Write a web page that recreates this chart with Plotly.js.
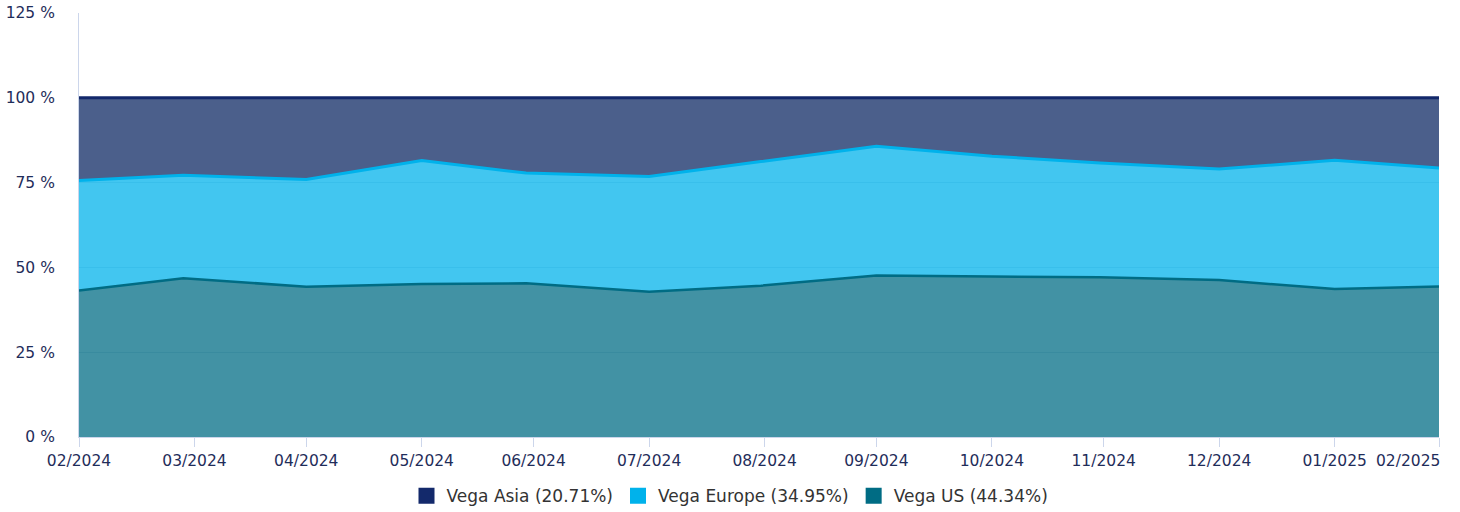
<!DOCTYPE html>
<html>
<head>
<meta charset="utf-8">
<script src="https://cdn.plot.ly/plotly-3.0.1.min.js"></script>
<style>
  html, body { margin: 0; padding: 0; background: #ffffff; }
  #chart { width: 1460px; height: 512px; }
</style>
</head>
<body>
<div id="chart"></div>
<script>
// Observation dates (month-end business days)
var dates = ['2024-02-29','2024-03-28','2024-04-30','2024-05-31','2024-06-28','2024-07-31',
             '2024-08-30','2024-09-30','2024-10-31','2024-11-29','2024-12-31','2025-01-31','2025-02-28'];

// Weights in % (stacked: US bottom, Europe middle, Asia top)
var vegaUS     = [43.2, 46.8, 44.3, 45.1, 45.3, 42.8, 44.6, 47.6, 47.3, 47.1, 46.3, 43.6, 44.34];
var vegaEurope = [32.4, 30.4, 31.6, 36.4, 32.5, 34.0, 36.6, 38.1, 35.5, 33.7, 32.7, 38.0, 34.95];
var vegaAsia   = [24.4, 22.8, 24.1, 18.5, 22.2, 23.2, 18.8, 14.3, 17.2, 19.2, 21.0, 18.4, 20.71];

var seriesNames  = ['Vega Asia (20.71%)', 'Vega Europe (34.95%)', 'Vega US (44.34%)'];
var seriesColors = ['#13296b', '#00b2eb', '#006c84'];

// Axis ticks (month ends)
var tickDates  = ['2024-02-29','2024-03-31','2024-04-30','2024-05-31','2024-06-30','2024-07-31',
                  '2024-08-31','2024-09-30','2024-10-31','2024-11-30','2024-12-31','2025-01-31','2025-02-28'];
var tickLabels = ['02/2024','03/2024','04/2024','05/2024','06/2024','07/2024',
                  '08/2024','09/2024','10/2024','11/2024','12/2024','01/2025','02/2025'];

var yTicks = [0, 25, 50, 75, 100, 125];

var lastIdx = tickLabels.length - 1;
// Last label is drawn right-aligned at the plot edge (annotation below)
var ticktextShown = tickLabels.map(function (t, i) { return i === lastIdx ? '' : t; });

var tickFont = { family: 'DejaVu Sans, Verdana, sans-serif', size: 15.5, color: '#1f2d5a' };

var traces = [
  {
    x: dates, y: vegaUS, name: seriesNames[2], type: 'scatter', mode: 'lines',
    stackgroup: 'one', line: { color: '#006c84', width: 2.5 },
    fillcolor: 'rgba(0,108,132,0.74)', hoverinfo: 'skip', showlegend: false
  },
  {
    x: dates, y: vegaEurope, name: seriesNames[1], type: 'scatter', mode: 'lines',
    stackgroup: 'one', line: { color: '#00b2eb', width: 3 },
    fillcolor: 'rgba(0,178,235,0.74)', hoverinfo: 'skip', showlegend: false
  },
  {
    x: dates, y: vegaAsia, name: seriesNames[0], type: 'scatter', mode: 'lines',
    stackgroup: 'one', line: { color: '#13296b', width: 3 },
    fillcolor: 'rgba(15,42,100,0.75)', hoverinfo: 'skip', showlegend: false
  }
];

// Legend entries with square swatches
seriesNames.forEach(function (n, i) {
  traces.push({
    x: [null], y: [null], name: n, type: 'scatter', mode: 'markers',
    marker: { symbol: 'square', size: 18, color: seriesColors[i] },
    showlegend: true, hoverinfo: 'skip'
  });
});

var layout = {
  width: 1460, height: 512,
  paper_bgcolor: '#ffffff', plot_bgcolor: '#ffffff',
  margin: { l: 79, r: 21, t: 13, b: 75, pad: 0 },
  font: { family: 'DejaVu Sans, Verdana, sans-serif', size: 15, color: '#1f2d5a' },
  showlegend: true,
  legend: {
    orientation: 'h', xref: 'container', x: 0.5, xanchor: 'center',
    yref: 'container', y: 0.031, yanchor: 'middle',
    traceorder: 'normal', itemsizing: 'trace',
    font: { family: 'DejaVu Sans, Verdana, sans-serif', size: 17, color: '#333333' },
    itemclick: false, itemdoubleclick: false
  },
  xaxis: {
    type: 'date',
    range: [dates[0], dates[dates.length - 1]],
    tickmode: 'array', tickvals: tickDates, ticktext: ticktextShown,
    ticks: 'outside', ticklen: 9, tickcolor: '#ccd6eb', tickwidth: 1,
    showline: true, linecolor: '#ccd6eb', linewidth: 1,
    showgrid: false, zeroline: false,
    tickfont: tickFont,
    fixedrange: true
  },
  yaxis: {
    range: [0, 125], tickmode: 'array', tickvals: yTicks,
    ticktext: yTicks.map(function (v) { return v + ' %'; }),
    showline: true, linecolor: '#ccd6eb', linewidth: 1,
    showgrid: true, gridcolor: '#dde3ec', gridwidth: 1,
    zeroline: false, ticks: '', ticklabelstandoff: 20,
    tickfont: tickFont,
    fixedrange: true
  },
  annotations: [{
    text: tickLabels[lastIdx], xref: 'x', x: tickDates[lastIdx], xanchor: 'right',
    yref: 'paper', y: 0, yanchor: 'top', yshift: -13, xshift: 3,
    showarrow: false, font: tickFont
  }],
  hovermode: false
};

Plotly.newPlot('chart', traces, layout, { displayModeBar: false, staticPlot: true });
</script>
</body>
</html>
